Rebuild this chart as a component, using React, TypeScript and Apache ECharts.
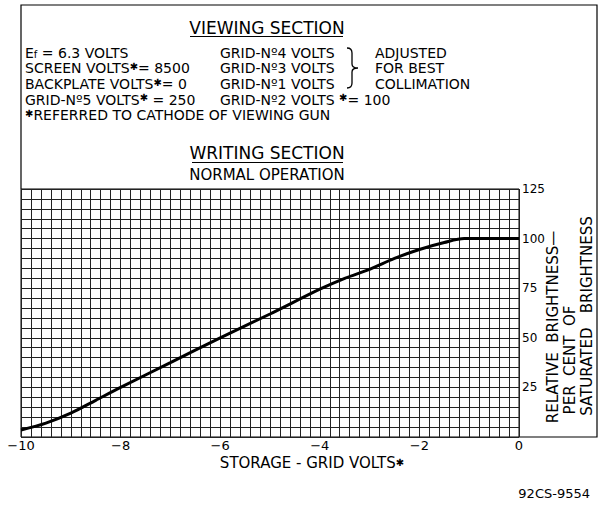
import React, { useEffect, useRef } from "react";
import * as echarts from "echarts";

// Storage-grid volts (x) and relative brightness, % of saturated (y)
const gridVolts = [-10, -9.5, -9, -8.5, -8, -7, -6, -5, -4, -3.5, -3, -2.5, -2, -1.5, -1.1, -0.5, 0];
const brightness = [3.5, 7, 12, 18.5, 25, 37.5, 50, 62, 74.5, 80, 84.5, 90, 94.5, 98, 100, 100, 100];

const xTicks = [-10, -8, -6, -4, -2, 0];
const yTicks = [25, 50, 75, 100, 125];

const viewingLeft = ["E{sub|f} = 6.3 VOLTS", "SCREEN VOLTS{sup|✱}= 8500", "BACKPLATE VOLTS{sup|✱}= 0", "GRID-Nº5 VOLTS{sup|✱} = 250", "{star|✱}REFERRED TO CATHODE OF VIEWING GUN"];
const viewingMid = ["GRID-Nº4 VOLTS", "GRID-Nº3 VOLTS", "GRID-Nº1 VOLTS", "GRID-Nº2 VOLTS {sup|✱}= 100"];
const viewingRight = ["ADJUSTED", "FOR BEST", "COLLIMATION"];
const yNameLines = ["RELATIVE  BRIGHTNESS—", "PER  CENT  OF", "SATURATED   BRIGHTNESS"];

const FONT = "DejaVu Sans";

export default function App() {
  const ref = useRef<HTMLDivElement>(null);
  useEffect(() => {
    if (!ref.current) return;
    try {
      echarts.graphic.registerShape(
        "brace",
        echarts.graphic.extendPath("M0,0 Q5,0 5,5 L5,16 Q5,20 11,20 Q5,20 5,24 L5,35 Q5,40 0,40", {})
      );
    } catch (e) {}
    const chart = echarts.init(ref.current, null, { renderer: "svg" });
    const rich = {
      sub: { fontSize: 10, fontFamily: FONT, verticalAlign: "bottom", lineHeight: 10, padding: [5, 0, 0, 0] },
      sup: { fontSize: 10, fontFamily: FONT, verticalAlign: "top", lineHeight: 9 },
      star: { fontSize: 10, fontFamily: FONT, verticalAlign: "top", lineHeight: 9 },
    };
    const rowY = [52.5, 68, 84, 99.5, 115];
    const txt = (x: number, y: number, text: string, size = 14, align = "left", extra: any = {}, lh = 14) => ({
      type: "text",
      x,
      y,
      style: { text, fontSize: size, fontFamily: FONT, fill: "#000", align, verticalAlign: "middle", rich, lineHeight: lh },
      ...extra,
    });
    const graphics: any[] = [
      { type: "polyline", shape: { points: [[21, 189], [21, 5], [597, 5], [597, 437], [519, 437]] }, style: { stroke: "#000", lineWidth: 1.2, fill: "none" } },
      txt(267, 28, "VIEWING SECTION", 17, "center"),
      { type: "line", shape: { x1: 190, y1: 36.5, x2: 343, y2: 36.5 }, style: { stroke: "#000", lineWidth: 1.2 } },
      txt(267, 153, "WRITING SECTION", 17, "center"),
      { type: "line", shape: { x1: 192, y1: 162.5, x2: 343, y2: 162.5 }, style: { stroke: "#000", lineWidth: 1.2 } },
      txt(267, 175, "NORMAL OPERATION", 15, "center"),
      { type: "brace", x: 347, y: 48, style: { stroke: "#000", lineWidth: 1.3, fill: "none" } },
      txt(312, 463, "STORAGE - GRID VOLTS{sup|✱}", 15, "center", {}, 11),
      txt(590, 493, "92CS-9554", 13, "right"),
    ];
    viewingLeft.forEach((t, i) => graphics.push(txt(25, rowY[i], t)));
    viewingMid.forEach((t, i) => graphics.push(txt(220, rowY[i], t)));
    viewingRight.forEach((t, i) => graphics.push(txt(375, rowY[i], t)));
    const yNamePos = [[553, 327], [570, 360], [587, 316]];
    yNameLines.forEach((t, i) =>
      graphics.push(txt(yNamePos[i][0], yNamePos[i][1], t, 15, "center", { rotation: Math.PI / 2 }))
    );

    chart.setOption({
      animation: false,
      backgroundColor: "#fff",
      grid: { left: 21, top: 189, width: 498, height: 248, show: true, borderColor: "#000", borderWidth: 1, backgroundColor: "transparent" },
      xAxis: {
        type: "value",
        min: xTicks[0],
        max: xTicks[xTicks.length - 1],
        interval: 2,
        axisLine: { show: false },
        axisTick: { show: false },
        minorTick: { show: false, splitNumber: 10 },
        splitLine: { show: true, lineStyle: { color: "#222", width: 1 } },
        minorSplitLine: { show: true, lineStyle: { color: "#222", width: 1 } },
        axisLabel: {
          color: "#000",
          fontSize: 13,
          fontFamily: FONT,
          margin: 2,
          lineHeight: 12,
          formatter: (v: number) => (v === 0 ? "0" : "−" + Math.abs(v)),
        },
      },
      yAxis: {
        type: "value",
        position: "right",
        min: 0,
        max: yTicks[yTicks.length - 1],
        interval: 25,
        axisLine: { show: false },
        axisTick: { show: false },
        minorTick: { show: false, splitNumber: 5 },
        splitLine: { show: true, lineStyle: { color: "#222", width: 1 } },
        minorSplitLine: { show: true, lineStyle: { color: "#222", width: 1 } },
        axisLabel: {
          color: "#000",
          fontSize: 12,
          fontFamily: FONT,
          margin: 3,
          formatter: (v: number) => (yTicks.includes(v) ? String(v) : ""),
        },
      },
      series: [
        {
          type: "line",
          data: gridVolts.map((x, i) => [x, brightness[i]]),
          smooth: 0.3,
          showSymbol: false,
          lineStyle: { color: "#000", width: 3 },
        },
      ],
      graphic: graphics,
    });
    return () => chart.dispose();
  }, []);
  return <div ref={ref} style={{ position: "fixed", left: 0, top: 0, width: 599, height: 506, background: "#fff" }} />;
}
